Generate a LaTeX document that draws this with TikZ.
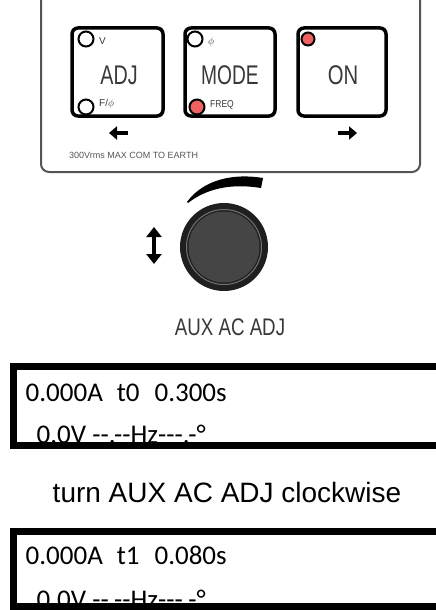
\documentclass[tikz,border=0pt]{standalone}
\usepackage{fontspec}
\setmainfont{Carlito}
\newfontfamily\arialfont{Liberation Sans}
\usepackage{tikz}
\usetikzlibrary{arrows.meta, positioning}
\definecolor{ledred}{HTML}{F06262}
\definecolor{panelgrey}{HTML}{555555}
\definecolor{knobgrey}{HTML}{454545}
\definecolor{printgrey}{HTML}{383838}

\begin{document}
\begin{tikzpicture}[x=1pt, y=-1pt,
    btn/.style={draw, line width=3.5pt, rounded corners=6pt, minimum width=91pt, minimum height=88pt, inner sep=0pt},
    btnlabel/.style={text=printgrey, inner sep=0pt, font=\arialfont\fontsize{27}{27}\selectfont},
    led/.style={circle, draw, line width=2pt, fill=white, minimum size=15pt, inner sep=0pt},
    ledon/.style={led, fill=ledred},
    tinylabel/.style={text=printgrey, inner sep=0pt, anchor=west, font=\arialfont\fontsize{10}{10}\selectfont},
    lcdframe/.style={draw, line width=7pt},
    lcdtext/.style={anchor=base west, inner sep=0pt, font=\fontsize{27}{27}\selectfont}]
  \useasboundingbox (0,0) rectangle (436,610);
  \clip (0,0) rectangle (436,610);

  % photo of the front panel
  \draw[panelgrey, line width=2pt, rounded corners=8pt] (41,-10) -- (41,172) -- (420,172) -- (420,-10);

  \node[btn] (adjbtn) at (117.5,72) {};
  \node[btn, minimum width=90pt] (modebtn) at (230,72) {};
  \node[btn, minimum width=88pt] (onbtn) at (342,72) {};
  \node[btnlabel] (adjlbl) at (119,75) {\scalebox{.73}[1]{ADJ}};
  \node[btnlabel] (modelbl) at (230,75) {\scalebox{.71}[1]{MODE}};
  \node[btnlabel] (onlbl) at (343,75) {\scalebox{.75}[1]{ON}};

  \node[led] (ledv) at (86,39) {};
  \node[led] (ledf) at (86,107) {};
  \node[led] (ledphi) at (195,39) {};
  \node[ledon] (ledfreq) at (197,107) {};
  \node[ledon, minimum size=13pt] (ledon) at (308,39) {};
  \node[tinylabel] (lblv) at (99,41) {V};
  \node[tinylabel] (lblf) at (99,104) {F/$\phi$};
  \node[tinylabel] (lblphi) at (208,42) {$\phi$};
  \node[tinylabel] (lblfreq) at (210,105) {\scalebox{.85}[1]{FREQ}};

  \draw[-{Triangle[length=8pt,width=13pt]}, line width=3.5pt] (128,133) -- (109,133);
  \draw[-{Triangle[length=8pt,width=13pt]}, line width=3.5pt] (338,133) -- (357,133);
  \node[tinylabel, text=panelgrey, font=\arialfont\fontsize{9}{9}\selectfont] (earth) at (69,155) {300Vrms MAX COM TO EARTH};

  % knob with its turning mark
  \fill (187,202) .. controls (200,184) and (226,172) .. (263,178) -- (261,188)
        .. controls (230,183) and (206,189) .. (188,203) -- cycle;
  \node[circle, fill=black!88, minimum size=88pt, inner sep=0pt] (knob) at (224,247) {};
  \draw[black!55, line width=1pt] (knob.center) circle[radius=37.5];
  \fill[knobgrey] (knob.center) circle[radius=35.5];
  \draw[{Triangle[length=10pt,width=15pt]}-{Triangle[length=10pt,width=15pt]}, line width=3.5pt] (154,227) -- (154,264);
  \node[btnlabel, font=\arialfont\fontsize{24}{24}\selectfont] (auxlbl) at (230,327) {\scalebox{.78}[1]{AUX AC ADJ}};

  % display before
  \node[lcdtext] (curA) at (25.5,401.5) {0.000A\hspace{14pt}t0\hspace{15pt}0.300s};
  \node[lcdtext] (volA) at (36.5,443.5) {0.0V -{}-.-{}-Hz-{}-{}-.-°};
  \draw[lcdframe] (13.5,366.5) rectangle (445,445.5);

  \node[font=\arialfont\fontsize{28}{28}\selectfont] (turnlbl) at (227,492) {turn AUX AC ADJ clockwise};

  % display after
  \node[lcdtext] (curB) at (25.5,564.5) {0.000A\hspace{14pt}t1\hspace{15pt}0.080s};
  \node[lcdtext] (volB) at (36.5,608.5) {0.0V -{}-.-{}-Hz-{}-{}-.-°};
  \draw[lcdframe] (13.5,531) rectangle (445,606.5);
\end{tikzpicture}
\end{document}
